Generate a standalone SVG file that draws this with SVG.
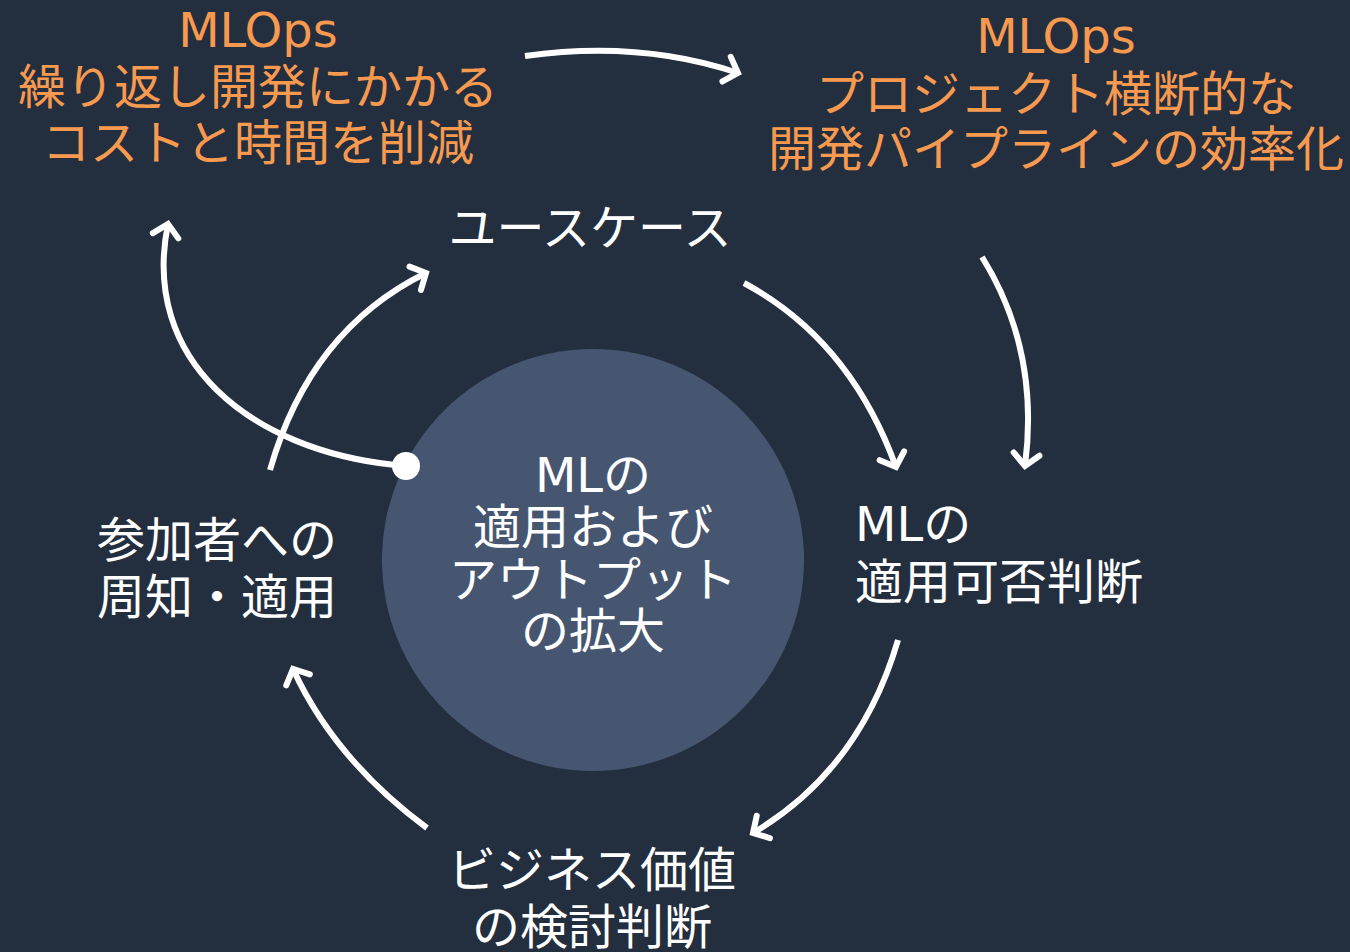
<svg xmlns="http://www.w3.org/2000/svg" width="1350" height="952" viewBox="0 0 1350 952">
<defs>
<marker id="ah" markerUnits="userSpaceOnUse" markerWidth="40" markerHeight="40" viewBox="-20 -20 40 40" refX="0" refY="0" orient="auto">
<path d="M-12,-13 L0,0 L-12,13" fill="none" stroke="#ffffff" stroke-width="6" stroke-linecap="round" stroke-linejoin="miter"/>
</marker>
</defs>
<style>
text{font-family:"DejaVu Sans","Noto Sans CJK JP",sans-serif;font-size:48px;}
.w{fill:#ffffff;}
.o{fill:#F79A50;}
.c{stroke:#ffffff;stroke-width:6;fill:none;marker-end:url(#ah);}
</style>
<rect width="1350" height="952" fill="#232E3E"/>
<g id="center">
<circle cx="593" cy="560" r="211" fill="#465671"/>
<text class="w" text-anchor="middle" x="593" y="492">MLの</text>
<text class="w" text-anchor="middle" x="593" y="544">適用および</text>
<text class="w" text-anchor="middle" x="593" y="597">アウトプット</text>
<text class="w" text-anchor="middle" x="593" y="648">の拡大</text>
</g>
<g id="mlops-left">
<text class="o" text-anchor="middle" x="258" y="47">MLOps</text>
<text class="o" text-anchor="middle" x="258" y="104">繰り返し開発にかかる</text>
<text class="o" text-anchor="middle" x="258" y="160">コストと時間を削減</text>
</g>
<g id="mlops-right">
<text class="o" text-anchor="middle" x="1056" y="53">MLOps</text>
<text class="o" text-anchor="middle" x="1056" y="111">プロジェクト横断的な</text>
<text class="o" text-anchor="middle" x="1056" y="166">開発パイプラインの効率化</text>
</g>
<g id="usecase">
<text class="w" text-anchor="middle" x="590" y="245">ユースケース</text>
</g>
<g id="ml-judge">
<text class="w" x="855" y="541">MLの</text>
<text class="w" x="855" y="599">適用可否判断</text>
</g>
<g id="business">
<text class="w" text-anchor="middle" x="592" y="887">ビジネス価値</text>
<text class="w" text-anchor="middle" x="592" y="944">の検討判断</text>
</g>
<g id="participants">
<text class="w" x="97" y="557">参加者への</text>
<text class="w" x="97" y="614">周知・適用</text>
</g>
<g id="connectors">
<path class="c" d="M525,56 Q640,40 738,73"/>
<path class="c" d="M744,283 Q850,340 896,467"/>
<path class="c" d="M982,257 Q1040,350 1025,466"/>
<path class="c" d="M898,640 Q860,770 753,833"/>
<path class="c" d="M427,828 Q335,760 293,669"/>
<path class="c" d="M270,470 Q310,330 426,273"/>
<path class="c" d="M395,465 C250,450 140,360 168,224"/>
<circle cx="406" cy="466" r="14" fill="#ffffff"/>
</g>
</svg>
